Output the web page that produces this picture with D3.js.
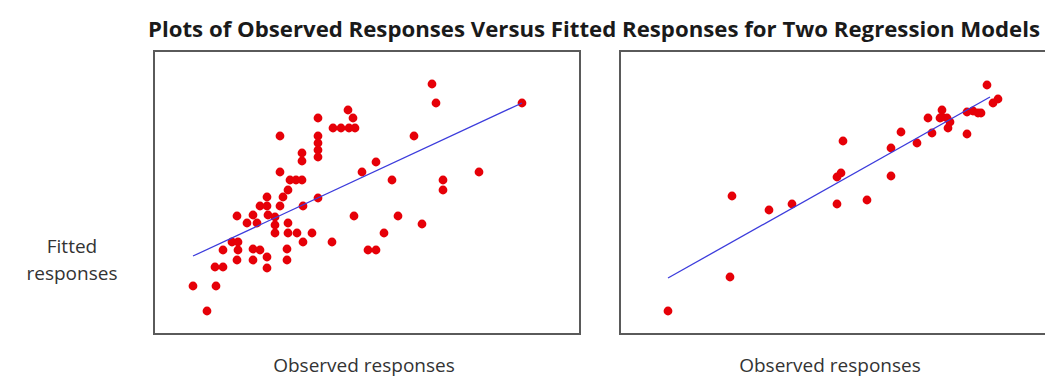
<!DOCTYPE html>
<html>
<head>
<meta charset="utf-8">
<script src="https://cdn.jsdelivr.net/npm/d3@7"></script>
<style>
  html, body { margin: 0; padding: 0; background: #fff; }
  svg { display: block; }
</style>
</head>
<body>
<svg id="chart" width="1045" height="378"></svg>
<script>
// Model 1: observed vs fitted responses
const model1Observed = [27.8, 28.2, 36.8, 19.4, 19.9, 16.4, 17.9, 18.7, 19.5, 20.1,
  12.6, 16.4, 16.4, 16.4, 16.4, 26.0, 14.8, 14.8, 22.2, 12.6,
  20.8, 32.5, 13.6, 14.2, 14.8, 23.8, 28.9, 28.9, 13.4, 11.3,
  12.9, 16.4, 10.6, 11.3, 12.6, 14.9, 8.3, 9.9, 11.4, 12.1,
  20.0, 24.4, 9.3, 10.3, 12.1, 13.4, 26.8, 12.1, 13.4, 14.3,
  15.8, 23.0, 7.8, 8.4, 14.9, 17.8, 6.9, 8.4, 9.9, 10.6,
  13.3, 21.4, 22.2, 8.3, 9.9, 11.3, 13.3, 11.3, 6.1, 6.9,
  3.9, 6.2, 5.3];
const model1Fitted = [25.0, 23.1, 23.1, 22.4, 21.6, 21.6, 20.6, 20.6, 20.6, 20.6,
  19.8, 19.8, 19.1, 18.4, 17.7, 19.8, 18.1, 17.3, 17.2, 16.2,
  16.2, 16.2, 15.4, 15.4, 15.4, 15.4, 15.4, 14.4, 14.4, 13.7,
  13.7, 13.6, 12.8, 12.8, 12.8, 12.8, 11.8, 11.9, 11.9, 11.7,
  11.8, 11.8, 11.1, 11.1, 10.9, 11.1, 11.0, 10.1, 10.1, 10.1,
  10.1, 10.1, 9.2, 9.2, 9.2, 9.2, 8.4, 8.4, 8.5, 8.4,
  8.5, 8.4, 8.4, 7.4, 7.4, 7.7, 7.4, 6.6, 6.7, 6.7,
  4.8, 4.8, 2.3];
const model1LineX = [3.9, 36.8];
const model1LineY = [7.8, 23.1];

// Model 2: observed vs fitted responses
const model2Observed = [36.7, 37.8, 37.3, 34.7, 35.3, 35.8, 36.1, 32.2, 32.2, 32.7,
  33.0, 32.8, 32.0, 30.8, 31.2, 34.7, 29.7, 28.1, 27.1, 22.3,
  27.1, 21.7, 22.1, 21.7, 24.7, 11.2, 14.9, 17.2, 11.0, 4.8];
const model2Fitted = [24.9, 23.5, 23.1, 22.2, 22.3, 22.1, 22.1, 22.4, 21.7, 21.6,
  21.2, 20.6, 21.6, 21.6, 20.1, 20.0, 19.1, 20.2, 18.6, 19.3,
  15.8, 15.7, 16.1, 13.0, 13.4, 13.8, 12.4, 13.0, 5.7, 2.3];
const model2LineX = [4.8, 37.0];
const model2LineY = [5.6, 23.7];

const chartTitle = "Plots of Observed Responses Versus Fitted Responses for Two Regression Models";
const xAxisTitle = "Observed responses";
const yAxisTitle = ["Fitted", "responses"];

const xDomain = [0, 42.6];
const yDomain = [0, 28.3];

const svg = d3.select("#chart");
const font = "'Open Sans', 'Noto Sans', sans-serif";

svg.append("text")
  .attr("x", 148).attr("y", 37)
  .attr("textLength", 892).attr("lengthAdjust", "spacingAndGlyphs")
  .attr("font-family", font).attr("font-weight", "bold").attr("font-size", 21)
  .attr("fill", "#1a1a1a")
  .text(chartTitle);

svg.append("g")
  .attr("font-family", font).attr("font-size", 19).attr("fill", "#333")
  .attr("text-anchor", "middle")
  .selectAll("text").data(yAxisTitle).join("text")
  .attr("x", 72).attr("y", (d, i) => 253 + i * 27)
  .text(d => d);

const panels = [
  { left: 154, obs: model1Observed, fit: model1Fitted, lx: model1LineX, ly: model1LineY },
  { left: 620, obs: model2Observed, fit: model2Fitted, lx: model2LineX, ly: model2LineY }
];
const panelW = 426, panelTop = 51, panelH = 283;

panels.forEach(p => {
  const x = d3.scaleLinear().domain(xDomain).range([p.left, p.left + panelW]);
  const y = d3.scaleLinear().domain(yDomain).range([panelTop + panelH, panelTop]);
  const g = svg.append("g");

  g.append("rect")
    .attr("x", p.left).attr("y", panelTop)
    .attr("width", panelW).attr("height", panelH)
    .attr("fill", "#fff").attr("stroke", "#5a5a5a").attr("stroke-width", 2);

  const pts = d3.zip(p.obs, p.fit);
  g.append("g").selectAll("circle").data(pts).join("circle")
    .attr("cx", d => x(d[0])).attr("cy", d => y(d[1]))
    .attr("r", 4.4).attr("fill", "#e60008");

  g.append("path")
    .datum(d3.zip(p.lx, p.ly))
    .attr("d", d3.line().x(d => x(d[0])).y(d => y(d[1])))
    .attr("fill", "none").attr("stroke", "#3c3cdc").attr("stroke-width", 1.3);

  g.append("text")
    .attr("x", p.left + panelW / 2 - 3).attr("y", 372)
    .attr("text-anchor", "middle")
    .attr("font-family", font).attr("font-size", 19).attr("fill", "#333")
    .text(xAxisTitle);
});
</script>
</body>
</html>
